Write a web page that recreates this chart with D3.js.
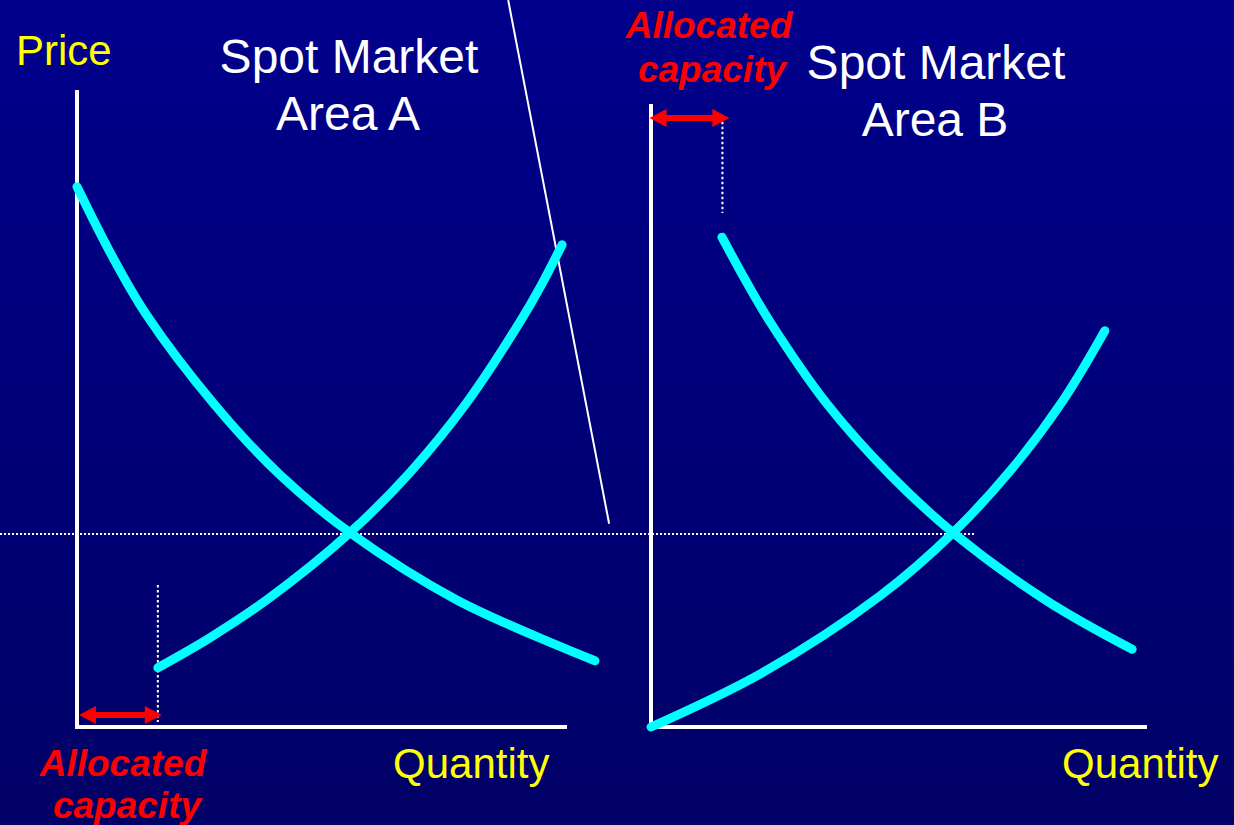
<!DOCTYPE html>
<html lang="en">
<head>
  <meta charset="UTF-8">
  <title>Spot Market Areas</title>
  <style>
    body { margin: 0; background: #000070; }
    svg { display: block; }
    text { font-family: "Liberation Sans", Arial, Helvetica, sans-serif; }
  </style>
</head>
<body>
  <svg id="svg" width="1234" height="825"></svg>
  <script src="https://cdn.jsdelivr.net/npm/d3@7"></script>
  <script>
    // curves as [quantity, price]
    const demandA = [[0, 84.8], [6.7, 74.6], [14.1, 64.8], [28.2, 50.5], [41.4, 39.6], [55.7, 30.5], [77.6, 19.9], [105.7, 10.4]]
    const supplyA = [[16.5, 9.3], [27.1, 14.0], [39.0, 20.1], [55.7, 30.5], [68.0, 40.0], [79.8, 51.2], [90.4, 63.6], [94.7, 69.3], [99.0, 75.7]]
    const demandB = [[14.3, 76.9], [19.0, 70.2], [24.0, 63.6], [35.5, 50.7], [48.2, 39.6], [60.9, 30.5], [79.8, 19.8], [97.0, 12.2]]
    const supplyB = [[0, 0], [22.4, 8.5], [46.2, 20.6], [60.9, 30.5], [72.4, 40.2], [83.1, 51.3], [91.5, 62.2]]

    const equilibriumPrice = 30.3
    const capacityA = 16.5
    const capacityB = 14.4
    const axisTopA = 100
    const axisTopB = 97.8

    const width = 1234
    const height = 825

    const svg = d3.select('#svg')

    // background gradient
    const grad = svg.append('defs').append('linearGradient')
      .attr('id', 'bg').attr('x1', 0).attr('y1', 0).attr('x2', 0).attr('y2', 1)
    grad.append('stop').attr('offset', '0%').attr('stop-color', '#00008c')
    grad.append('stop').attr('offset', '100%').attr('stop-color', '#000066')
    svg.append('rect').attr('width', width).attr('height', height).attr('fill', 'url(#bg)')

    // scales
    const y = d3.scaleLinear().domain([0, 100]).range([727, 90])
    const xA = d3.scaleLinear().domain([0, 100]).range([77, 567])
    const xB = d3.scaleLinear().domain([0, 100]).range([651, 1147])

    // dotted equilibrium price line across both panels
    svg.append('line')
      .attr('x1', 0).attr('x2', xB(65.5))
      .attr('y1', y(equilibriumPrice)).attr('y2', y(equilibriumPrice))
      .attr('stroke', 'white').attr('stroke-width', 2)
      .attr('stroke-dasharray', '2,2')

    // diagonal separator line
    svg.append('line')
      .attr('x1', xA(88)).attr('y1', y(114.1))
      .attr('x2', xA(108.6)).attr('y2', y(31.9))
      .attr('stroke', 'white').attr('stroke-width', 2)

    // axes
    function drawAxes(x, top) {
      svg.append('path')
        .attr('d', `M${x(0)},${y(top)} L${x(0)},${y(0)} L${x(100)},${y(0)}`)
        .attr('fill', 'none').attr('stroke', 'white').attr('stroke-width', 4)
    }
    drawAxes(xA, axisTopA)
    drawAxes(xB, axisTopB)

    // dotted capacity lines
    svg.append('line')
      .attr('x1', xA(capacityA)).attr('x2', xA(capacityA))
      .attr('y1', y(22.3)).attr('y2', y(0.8))
      .attr('stroke', 'white').attr('stroke-width', 2).attr('stroke-dasharray', '2.5,2.5')
    svg.append('line')
      .attr('x1', xB(capacityB)).attr('x2', xB(capacityB))
      .attr('y1', y(95)).attr('y2', y(80.7))
      .attr('stroke', 'white').attr('stroke-width', 2).attr('stroke-dasharray', '2.5,2.5')

    // curves
    function curve(points, x) {
      const line = d3.line()
        .x(d => x(d[0]))
        .y(d => y(d[1]))
        .curve(d3.curveCatmullRom.alpha(0.5))
      svg.append('path')
        .attr('d', line(points))
        .attr('fill', 'none')
        .attr('stroke', '#00ffff')
        .attr('stroke-width', 9)
        .attr('stroke-linecap', 'round')
    }
    curve(demandA, xA)
    curve(supplyA, xA)
    curve(demandB, xB)
    curve(supplyB, xB)

    // double-headed red arrows
    function arrow(x0, x1, yy) {
      const head = 17, hw = 9, sw = 3
      const pts = [
        [x0, yy], [x0 + head, yy - hw], [x0 + head, yy - sw], [x1 - head, yy - sw],
        [x1 - head, yy - hw], [x1, yy], [x1 - head, yy + hw], [x1 - head, yy + sw],
        [x0 + head, yy + sw], [x0 + head, yy + hw]
      ]
      svg.append('polygon')
        .attr('points', pts.map(p => p.join(',')).join(' '))
        .attr('fill', '#ff0000')
    }
    arrow(xA(0.4), xA(capacityA + 0.8), y(1.9))
    arrow(xB(-0.3), xB(capacityB + 1.4), y(95.6))

    // labels
    function label(text, x, yy, size, color, opts = {}) {
      svg.append('text')
        .attr('x', x).attr('y', yy)
        .attr('font-size', size)
        .attr('fill', color)
        .attr('text-anchor', opts.anchor || 'start')
        .attr('font-weight', opts.bold ? 'bold' : 'normal')
        .attr('font-style', opts.italic ? 'italic' : 'normal')
        .text(text)
    }
    label('Price', 16, 65, 42, '#ffff00')
    label('Spot Market', 349, 73, 48, 'white', { anchor: 'middle' })
    label('Area A', 348, 130, 48, 'white', { anchor: 'middle' })
    label('Spot Market', 936, 79, 48, 'white', { anchor: 'middle' })
    label('Area B', 935, 136, 48, 'white', { anchor: 'middle' })
    label('Quantity', 393, 778, 42, '#ffff00')
    label('Quantity', 1062, 778, 42, '#ffff00')

    const red = { anchor: 'middle', bold: true, italic: true }
    label('Allocated', 123, 776, 37, '#ff0000', red)
    label('capacity', 127, 818, 37, '#ff0000', red)
    label('Allocated', 709, 38, 37, '#ff0000', red)
    label('capacity', 712, 82, 37, '#ff0000', red)
  </script>
</body>
</html>
